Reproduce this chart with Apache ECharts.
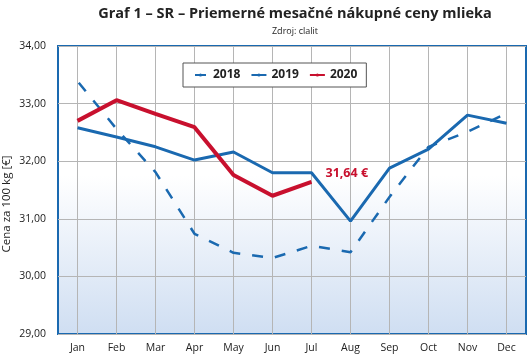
<!DOCTYPE html>
<html><head><meta charset="utf-8">
<script src="https://cdn.jsdelivr.net/npm/echarts@6/dist/echarts.min.js"></script>
<style>html,body{margin:0;padding:0;background:#fff}#c{width:529px;height:361px}</style>
</head><body><div id="c"></div>
<script>
const categories = ['Jan','Feb','Mar','Apr','May','Jun','Jul','Aug','Sep','Oct','Nov','Dec'];
const s2018 = [33.39, 32.56, 31.81, 30.74, 30.41, 30.32, 30.53, 30.42, 31.38, 32.25, 32.51, 32.83];
const s2019 = [32.58, 32.42, 32.25, 32.02, 32.16, 31.80, 31.80, 30.96, 31.88, 32.21, 32.80, 32.66];
const s2020 = [32.70, 33.06, 32.82, 32.59, 31.76, 31.40, 31.64];
const yTicks = [29, 30, 31, 32, 33, 34];
const yAxisName = 'Cena za 100 kg [€]';
const blue = '#1a69b0', red = '#c8102e';
const font = 'Open Sans';
const chart = echarts.init(document.getElementById('c'));
chart.setOption({
  animation: false,
  textStyle: {fontFamily: font},
  title: [
    {text: 'Graf 1 – SR – Priemerné mesačné nákupné ceny mlieka', left: 290, textAlign: 'center', top: 1,
     textStyle: {fontSize: 14.5, fontWeight: 'bold', color: '#222', fontFamily: font}},
    {text: 'Zdroj: clalit', left: 290, textAlign: 'center', top: 22,
     textStyle: {fontSize: 9, fontWeight: 'normal', color: '#222', fontFamily: font}}
  ],
  graphic: [{
    type: 'text', x: 7, y: 204, rotation: Math.PI / 2,
    style: {text: yAxisName, fill: '#222', font: '11.5px "Open Sans"', align: 'center', verticalAlign: 'middle'}
  }],
  legend: {
    left: 183, top: 63, width: 179, height: 27,
    padding: [6, 9, 6, 9],
    borderColor: '#555', borderWidth: 1, backgroundColor: '#fff',
    itemWidth: 15, itemHeight: 4, itemGap: 10,
    textStyle: {fontSize: 12, fontWeight: 'bold', color: '#222', fontFamily: font},
    data: ['2018','2019','2020']
  },
  grid: {left: 58, right: 3, top: 46, bottom: 27, outerBoundsMode: 'none', containLabel: false,
    show: true, borderColor: blue, borderWidth: 2,
    backgroundColor: new echarts.graphic.LinearGradient(0, 0, 0, 1, [
      {offset: 0, color: '#ffffff'}, {offset: 0.45, color: '#ffffff'}, {offset: 1, color: '#cfdef2'}])},
  xAxis: {
    type: 'category', data: categories, boundaryGap: true,
    axisLine: {show: false}, axisTick: {show: false},
    axisLabel: {color: '#222', fontSize: 10.5, margin: 9, fontFamily: font},
    splitLine: {show: true, alignWithLabel: true, lineStyle: {color: '#b5b5b5', width: 1}}
  },
  yAxis: {
    type: 'value', min: yTicks[0], max: yTicks[yTicks.length-1], interval: 1,
    axisLine: {show: false}, axisTick: {show: false},
    axisLabel: {color: '#222', fontSize: 10.5, margin: 12, fontFamily: font,
      formatter: v => v.toFixed(2).replace('.', ',')},
    splitLine: {show: true, lineStyle: {color: '#b5b5b5', width: 1}}
  },
  series: [
    {name: '2018', type: 'line', data: s2018, symbol: 'none', z: 2,
     lineStyle: {color: blue, width: 2.5, type: [11, 12], dashOffset: -2}, itemStyle: {color: blue}},
    {name: '2019', type: 'line', data: s2019, symbol: 'none', z: 3,
     lineStyle: {color: blue, width: 3}, itemStyle: {color: blue}},
    {name: '2020', type: 'line', data: s2020, symbol: 'none', z: 4,
     lineStyle: {color: red, width: 4}, itemStyle: {color: red},
     endLabel: {show: true, formatter: p => p.value.toFixed(2).replace('.', ',') + ' €',
       color: red, fontSize: 12.5, fontWeight: 'bold', fontFamily: font, offset: [6, -8]}}
  ]
});
</script></body></html>
